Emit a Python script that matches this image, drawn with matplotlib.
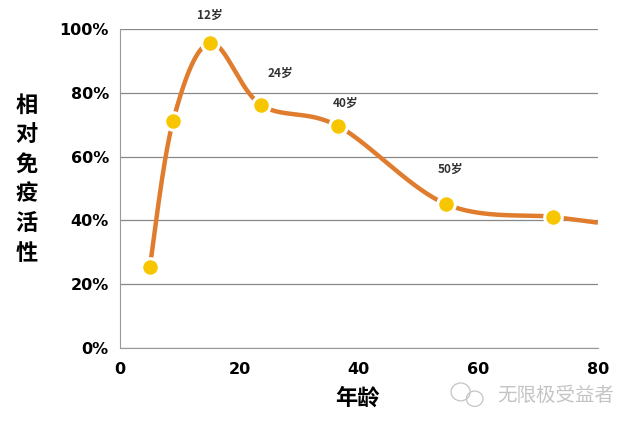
import numpy as np
import matplotlib
matplotlib.use("Agg")
import matplotlib.pyplot as plt
from matplotlib.patches import Ellipse

plt.rcParams['font.family'] = ['Noto Sans CJK SC', 'DejaVu Sans']

# data
ages = [5.0, 8.9, 15.1, 23.6, 36.5, 54.6, 72.5]
activity = [25.4, 71.2, 95.6, 76.2, 69.6, 45.1, 41.1]
end_age, end_activity = 80.0, 39.3
labels = ["12岁", "24岁", "40岁", "50岁"]
label_x = [15.1, 26.8, 37.8, 55.4]
label_y = [104.4, 86.2, 76.8, 56.1]
xticks = [0, 20, 40, 60, 80]
yticks = [0, 20, 40, 60, 80, 100]

def catmull_rom(xs, ys, n=40):
    P = np.column_stack([xs, ys]).astype(float)
    P = np.vstack([P[0], P, P[-1]])
    out = []
    for i in range(1, len(P) - 2):
        p0, p1, p2, p3 = P[i-1], P[i], P[i+1], P[i+2]
        t = np.linspace(0, 1, n)[:, None]
        seg = 0.5 * ((2*p1) + (-p0 + p2)*t + (2*p0 - 5*p1 + 4*p2 - p3)*t**2 + (-p0 + 3*p1 - 3*p2 + p3)*t**3)
        out.append(seg)
    out = np.vstack(out)
    return out[:, 0], out[:, 1]

fig = plt.figure(figsize=(6.38, 4.26), dpi=100)
ax = fig.add_axes([0.188, 0.183, 0.749, 0.749])

cx, cy = catmull_rom(ages + [end_age], activity + [end_activity])
ax.plot(cx, cy, color='#E07C2E', lw=3.2, solid_capstyle='butt', zorder=3)
ax.scatter(ages, activity, s=160, color='#F7C600', edgecolor='white', linewidth=2.2, zorder=4)

for t, x, y in zip(labels, label_x, label_y):
    ax.text(x, y, t, fontsize=8.5, fontweight='bold', color='#333333', ha='center', va='center', clip_on=False)

ax.set_xlim(0, 80)
ax.set_ylim(0, 100)
ax.set_xticks(xticks)
ax.set_yticks(yticks)
ax.set_yticklabels([f"{v}%" for v in yticks])
ax.tick_params(length=0, labelsize=11.5, pad=8)
ax.tick_params(axis='x', pad=10)
for lab in ax.get_xticklabels() + ax.get_yticklabels():
    lab.set_fontweight('bold')
    lab.set_family(['DejaVu Sans'])
ax.grid(axis='y', color='#888888', lw=0.9)
ax.set_axisbelow(True)
for s in ['top', 'right']:
    ax.spines[s].set_visible(False)
ax.spines['left'].set_color('#999999')
ax.spines['bottom'].set_color('#999999')

fig.text(0.56, 0.065, "年龄", fontsize=16, fontweight='bold', ha='center', va='center')
ylabel = "相对免疫活性"
for i, ch in enumerate(ylabel):
    fig.text(0.042, 1 - (105 + i*29.6)/426, ch, fontsize=16, fontweight='bold', ha='center', va='center')

fig.text(0.871, 0.072, "无限极受益者", fontsize=14, color='#c4c4c4', ha='center', va='center', fontweight='light')
fig.patches.append(Ellipse((0.722, 0.080), 0.030, 0.042, transform=fig.transFigure, fill=False, ec='#c4c4c4', lw=0.9))
fig.patches.append(Ellipse((0.744, 0.064), 0.026, 0.036, transform=fig.transFigure, fill=False, ec='#c4c4c4', lw=0.9))

fig.savefig("out.png", dpi=100)
